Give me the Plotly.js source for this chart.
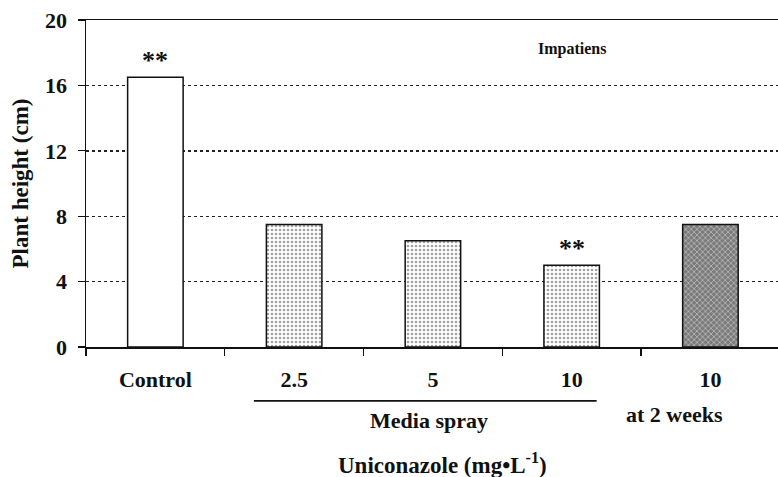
<!DOCTYPE html>
<html>
<head>
<meta charset="utf-8">
<script src="https://cdn.plot.ly/plotly-3.0.1.min.js"></script>
<style>html,body{margin:0;padding:0;background:#fff;}#chart{width:778px;height:477px;}</style>
</head>
<body>
<div id="chart"></div>
<script>
// ---- data ----
const categoryIds = ["Control", "MS2.5", "MS5", "MS10", "W10"];
const tickLabels = ["Control", "2.5", "5", "10", "10"];
const plantHeight = [16.5, 7.5, 6.5, 5.0, 7.5];
const significance = ["**", "", "", "**", ""];
const yTicks = [0, 4, 8, 12, 16, 20];
const groupLabels = [
  {text: "Media spray", at: "MS5"},
  {text: "at 2 weeks", at: "W10"}
];
const panelLabel = "Impatiens";
const xTitle = "Uniconazole (mg\u2022L<sup>-1</sup>)";
const yTitle = "Plant height (cm)";

const serif = "'Times New Roman', 'Liberation Serif', serif";
const idx = id => categoryIds.indexOf(id);

// fills: control white, media spray light stipple, 2-week dark stipple
const fillBg = ["#ffffff", "#ffffff", "#ffffff", "#ffffff", "#7a7a7a"];
const patShape = ["", ".", ".", ".", "x"];
const patFg = ["#000", "#8a8a8a", "#8a8a8a", "#8a8a8a", "#111111"];

const trace = {
  type: "bar",
  x: categoryIds.map((c, i) => i),
  y: plantHeight,
  width: 0.4,
  marker: {
    color: fillBg,
    line: {color: "#111", width: 1.5},
    pattern: {shape: patShape, fgcolor: patFg, bgcolor: fillBg, size: 4, solidity: 0.35, fillmode: "overlay"}
  },
  hoverinfo: "skip",
  showlegend: false
};

// invisible trace that carries the boundary tick axis
const tickTrace = {
  type: "scatter", x: [0], y: [0], xaxis: "x2", mode: "markers",
  marker: {opacity: 0}, hoverinfo: "skip", showlegend: false
};

const annotations = [];
significance.forEach((s, i) => {
  if (s) annotations.push({
    x: i, y: plantHeight[i], xref: "x", yref: "y", text: "<b>" + s + "</b>", showarrow: false,
    yanchor: "bottom", yshift: 0, font: {family: serif, size: 26, color: "#111"}
  });
});
annotations.push({
  x: 3.0, y: 0.91, xref: "x", yref: "paper", text: "<b>" + panelLabel + "</b>", showarrow: false,
  xanchor: "center", yanchor: "middle", font: {family: serif, size: 16, color: "#111"}
});
annotations.push({
  x: idx("MS5") - 0.03, y: -0.226, xref: "x", yref: "paper", text: "<b>" + groupLabels[0].text + "</b>",
  showarrow: false, xanchor: "center", yanchor: "middle", font: {family: serif, size: 22, color: "#111"}
});
annotations.push({
  x: idx("W10") - 0.26, y: -0.205, xref: "x", yref: "paper", text: "<b>" + groupLabels[1].text + "</b>",
  showarrow: false, xanchor: "center", yanchor: "middle", font: {family: serif, size: 22, color: "#111"}
});
annotations.push({
  x: 2.07, y: -0.355, xref: "x", yref: "paper", text: "<b>" + xTitle + "</b>",
  showarrow: false, xanchor: "center", yanchor: "middle", font: {family: serif, size: 23, color: "#111"}
});
annotations.push({
  x: -0.094, y: 0.5, xref: "paper", yref: "paper", text: "<b>" + yTitle + "</b>", textangle: -90,
  showarrow: false, xanchor: "center", yanchor: "middle", font: {family: serif, size: 23, color: "#111"}
});

const layout = {
  width: 778, height: 477,
  margin: {l: 86, r: 0, t: 20, b: 130},
  paper_bgcolor: "#fff", plot_bgcolor: "#fff",
  font: {family: serif, color: "#111"},
  xaxis: {
    range: [-0.5, 4.487], showgrid: false, zeroline: false,
    tickmode: "array", tickvals: categoryIds.map((c, i) => i),
    ticktext: tickLabels.map(t => "<b>" + t + "</b>"),
    ticks: "", tickfont: {family: serif, size: 22, color: "#111"},
    showline: true, linecolor: "#111", linewidth: 1.5, mirror: true,
    ticklabelstandoff: 12, fixedrange: true
  },
  xaxis2: {
    overlaying: "x", range: [-0.5, 4.487], side: "bottom",
    tickmode: "array", tickvals: [-0.5, 0.5, 1.5, 2.5, 3.5, 4.5],
    ticks: "outside", ticklen: 8, tickwidth: 1.3, tickcolor: "#111",
    showticklabels: false, showgrid: false, zeroline: false, showline: false
  },
  yaxis: {
    range: [0, 20], tickmode: "array", tickvals: yTicks,
    ticktext: yTicks.map(t => "<b>" + t + "</b>"),
    ticks: "outside", ticklen: 7, tickwidth: 1.3, tickcolor: "#111",
    tickfont: {family: serif, size: 22, color: "#111"},
    showline: true, linecolor: "#111", linewidth: 1.5,
    showgrid: true, gridcolor: "#222", griddash: "dot", gridwidth: 1.4,
    zeroline: false, ticklabelstandoff: 6, fixedrange: true
  },
  shapes: [{
    type: "line", xref: "x", yref: "paper",
    x0: 0.71, x1: 3.18, y0: -0.165, y1: -0.165,
    line: {color: "#111", width: 1.8}
  }],
  annotations: annotations,
  bargap: 0.6
};

Plotly.newPlot("chart", [trace, tickTrace], layout, {staticPlot: true, displayModeBar: false});
</script>
</body>
</html>
